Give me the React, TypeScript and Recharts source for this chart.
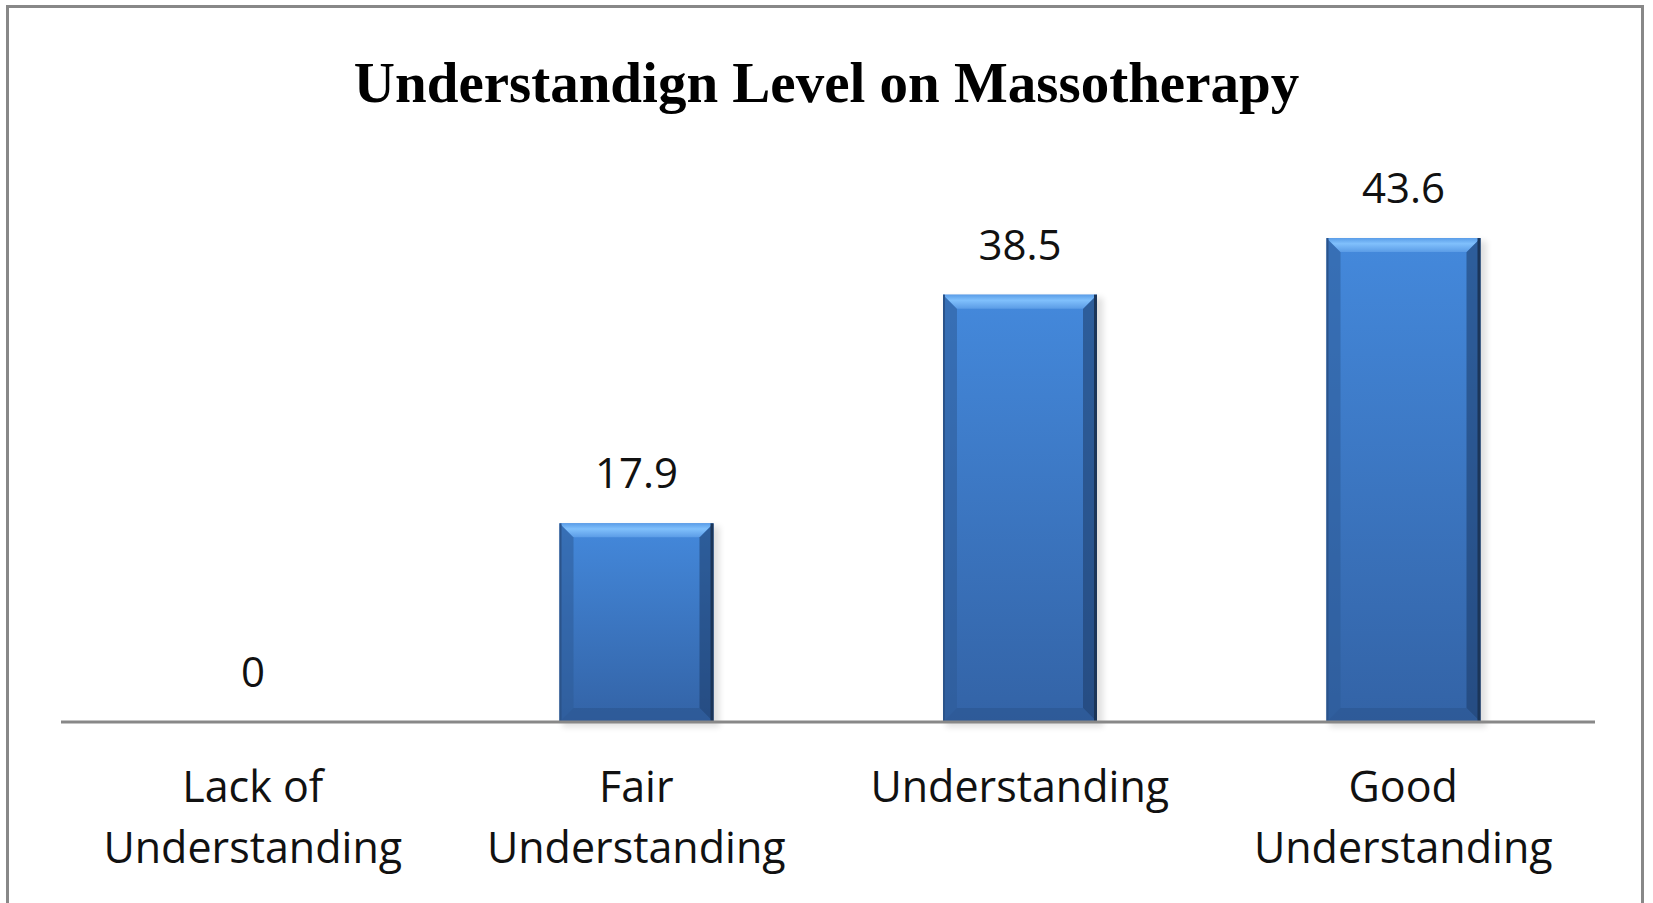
import React from "react";
import { BarChart, Bar, XAxis, YAxis, LabelList } from "recharts";

const categories: string[][] = [
  ["Lack of", "Understanding"],
  ["Fair", "Understanding"],
  ["Understanding"],
  ["Good", "Understanding"],
];
const values: number[] = [0, 17.9, 38.5, 43.6];
const title = "Understandign Level on Massotherapy";

const data = categories.map((c, i) => ({ name: c.join(" "), lines: c, value: values[i] }));

const BevelBar = (props: any) => {
  const { x, y, width: w, height: h } = props;
  if (!h || h <= 0) return null;
  const b = 14;
  return (
    <g>
      <rect x={x + 3} y={y + 3} width={w + 3} height={h + 2} fill="#000" opacity={0.12} filter="url(#blurShadow)" />
      <rect x={x} y={y} width={w} height={h} fill="url(#barMain)" />
      <polygon points={`${x},${y} ${x + b},${y + b} ${x + b},${y + h - b} ${x},${y + h}`} fill="#2d5b98" opacity={0.55} />
      <polygon points={`${x + w},${y} ${x + w - b},${y + b} ${x + w - b},${y + h - b} ${x + w},${y + h}`} fill="#1c3a66" opacity={0.55} />
      <polygon points={`${x},${y} ${x + w},${y} ${x + w - b},${y + b} ${x + b},${y + b}`} fill="url(#barTop)" />
      <polygon points={`${x},${y + h} ${x + w},${y + h} ${x + w - b},${y + h - b} ${x + b},${y + h - b}`} fill="#2c5590" opacity={0.6} />
      <rect x={x + w - 3} y={y} width={3} height={h} fill="#1b3558" />
      <rect x={x} y={y} width={2} height={h} fill="#2a538a" />
    </g>
  );
};

const Tick = (props: any) => {
  const { x, y, index } = props;
  const lines = categories[index] || [];
  return (
    <text x={x} y={y} textAnchor="middle" fontFamily="'Open Sans', sans-serif" fontSize={43} fill="#111">
      {lines.map((l, i) => (
        <tspan key={i} x={x} y={y + 80 + i * 61}>
          {l}
        </tspan>
      ))}
    </text>
  );
};

export default function App() {
  return (
    <div style={{ position: "fixed", left: 0, top: 0, width: 1653, height: 903, overflow: "hidden", background: "#fff" }}>
      <div
        style={{
          position: "absolute",
          left: 6,
          top: 5,
          width: 1638,
          height: 920,
          border: "3px solid #888",
          boxSizing: "border-box",
        }}
      />
      <div
        style={{
          position: "absolute",
          left: 0,
          top: 54,
          width: 1653,
          textAlign: "center",
          fontFamily: "'Liberation Serif', serif",
          fontWeight: "bold",
          fontSize: 57,
          lineHeight: "57px",
          color: "#000",
          whiteSpace: "nowrap",
        }}
      >
        {title}
      </div>
      <div style={{ position: "absolute", left: 0, top: 0 }}>
        <BarChart width={1653} height={903} data={data} margin={{ top: 167, right: 58, bottom: 21, left: 61 }}>
          <defs>
            <linearGradient id="barMain" x1="0" y1="0" x2="0" y2="1">
              <stop offset="0%" stopColor="#4489dc" />
              <stop offset="100%" stopColor="#3363a6" />
            </linearGradient>
            <linearGradient id="barTop" x1="0" y1="0" x2="0" y2="1">
              <stop offset="0%" stopColor="#5a9de8" />
              <stop offset="40%" stopColor="#80c0fc" />
              <stop offset="100%" stopColor="#5b9ce6" />
            </linearGradient>
            <filter id="blurShadow" x="-20%" y="-20%" width="140%" height="140%">
              <feGaussianBlur stdDeviation="3" />
            </filter>
          </defs>
          <YAxis hide domain={[0, 50]} />
          <XAxis
            dataKey="name"
            height={160}
            axisLine={{ stroke: "#888", strokeWidth: 3 }}
            tickLine={false}
            tickSize={0}
            tickMargin={0}
            interval={0}
            tick={<Tick />}
          />
          <Bar dataKey="value" barSize={154} isAnimationActive={false} shape={<BevelBar />}>
            <LabelList
              dataKey="value"
              position="top"
              offset={35}
              fontFamily="'Open Sans', sans-serif"
              fontSize={42}
              fill="#111"
            />
          </Bar>
        </BarChart>
      </div>
    </div>
  );
}
